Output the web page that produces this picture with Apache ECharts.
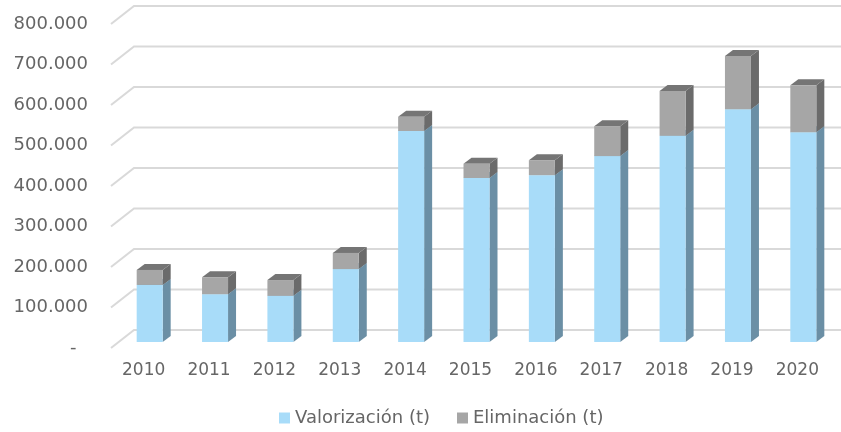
<!DOCTYPE html>
<html>
<head>
<meta charset="utf-8">
<script src="https://cdn.jsdelivr.net/npm/echarts@6/dist/echarts.min.js"></script>
<style>
html, body { margin: 0; padding: 0; background: #fff; }
#chart { width: 841px; height: 432px; }
</style>
</head>
<body>
<div id="chart"></div>
<script>
const years = ['2010', '2011', '2012', '2013', '2014', '2015', '2016', '2017', '2018', '2019', '2020']
const valorizacion = [141000, 118000, 114000, 180000, 521000, 405000, 412000, 459000, 509000, 575000, 518000]
const eliminacion = [37000, 42000, 39000, 40000, 35000, 35000, 37000, 74000, 111000, 131000, 116000]
const yTicks = [0, 100000, 200000, 300000, 400000, 500000, 600000, 700000, 800000]
const yLabels = ['-  ', '100.000', '200.000', '300.000', '400.000', '500.000', '600.000', '700.000', '800.000']

// fake 3d offsets, in pixels
const wallDx = 23
const wallDy = -18
const barDx = 6
const barDy = -6
const depthDx = 8
const depthDy = -6
const barWidth = 26
const fontName = 'DejaVu Sans'
const textColor = '#666666'

function drawWall (params, api) {
  const p = api.coord([0, api.value(0)])
  const left = params.coordSys.x
  const right = 841
  return {
    type: 'polyline',
    silent: true,
    shape: { points: [[left, p[1]], [left + wallDx, p[1] + wallDy], [right, p[1] + wallDy]] },
    style: { fill: null, stroke: '#d9d9d9', lineWidth: 2 }
  }
}

function barRenderer (front, side, top) {
  return function (params, api) {
    const cat = api.value(0)
    const lo = api.coord([cat, api.value(1)])
    const hi = api.coord([cat, api.value(2)])
    const x0 = lo[0] + barDx - barWidth / 2
    const x1 = x0 + barWidth
    const y0 = lo[1] + barDy
    const y1 = hi[1] + barDy
    return {
      type: 'group',
      children: [
        { type: 'polygon', shape: { points: [[x1, y0], [x1 + depthDx, y0 + depthDy], [x1 + depthDx, y1 + depthDy], [x1, y1]] }, style: { fill: side } },
        { type: 'polygon', shape: { points: [[x0, y1], [x1, y1], [x1 + depthDx, y1 + depthDy], [x0 + depthDx, y1 + depthDy]] }, style: { fill: top } },
        { type: 'rect', shape: { x: x0, y: y1, width: barWidth, height: y0 - y1 }, style: { fill: front } }
      ]
    }
  }
}

const myChart = echarts.init(document.getElementById('chart'))
const option = {
  animation: false,
  backgroundColor: '#fff',
  legend: {
    data: ['Valorización (t)', 'Eliminación (t)'],
    top: 404,
    left: 274,
    icon: 'rect',
    itemWidth: 11,
    itemHeight: 11,
    itemGap: 27,
    textStyle: { fontFamily: fontName, fontSize: 18, color: textColor }
  },
  grid: { left: 111, right: 11, top: 24, bottom: 84 },
  xAxis: {
    type: 'category',
    data: years,
    axisLine: { show: false },
    axisTick: { show: false },
    axisLabel: { fontFamily: fontName, fontSize: 17, color: textColor, margin: 14 }
  },
  yAxis: {
    type: 'value',
    min: 0,
    max: 800000,
    interval: 100000,
    axisLine: { show: false },
    axisTick: { show: false },
    splitLine: { show: false },
    axisLabel: {
      fontFamily: fontName,
      fontSize: 18,
      color: textColor,
      margin: 23,
      formatter: function (v) { return yLabels[yTicks.indexOf(v)] }
    }
  },
  series: [
    {
      type: 'custom',
      silent: true,
      z: 1,
      legendHoverLink: false,
      renderItem: drawWall,
      encode: { y: 0 },
      data: yTicks.map(v => [v])
    },
    {
      name: 'Valorización (t)',
      type: 'custom',
      z: 2,
      itemStyle: { color: '#a8dcf9' },
      renderItem: barRenderer('#a8dcf9', '#6b8fa5', '#7fa8c0'),
      encode: { x: 0, y: 2 },
      data: years.map((y, i) => [i, 0, valorizacion[i]])
    },
    {
      name: 'Eliminación (t)',
      type: 'custom',
      z: 3,
      itemStyle: { color: '#a6a6a6' },
      renderItem: barRenderer('#a6a6a6', '#6b6b6b', '#757575'),
      encode: { x: 0, y: 2 },
      data: years.map((y, i) => [i, valorizacion[i], valorizacion[i] + eliminacion[i]])
    }
  ]
}
myChart.setOption(option)
</script>
</body>
</html>
